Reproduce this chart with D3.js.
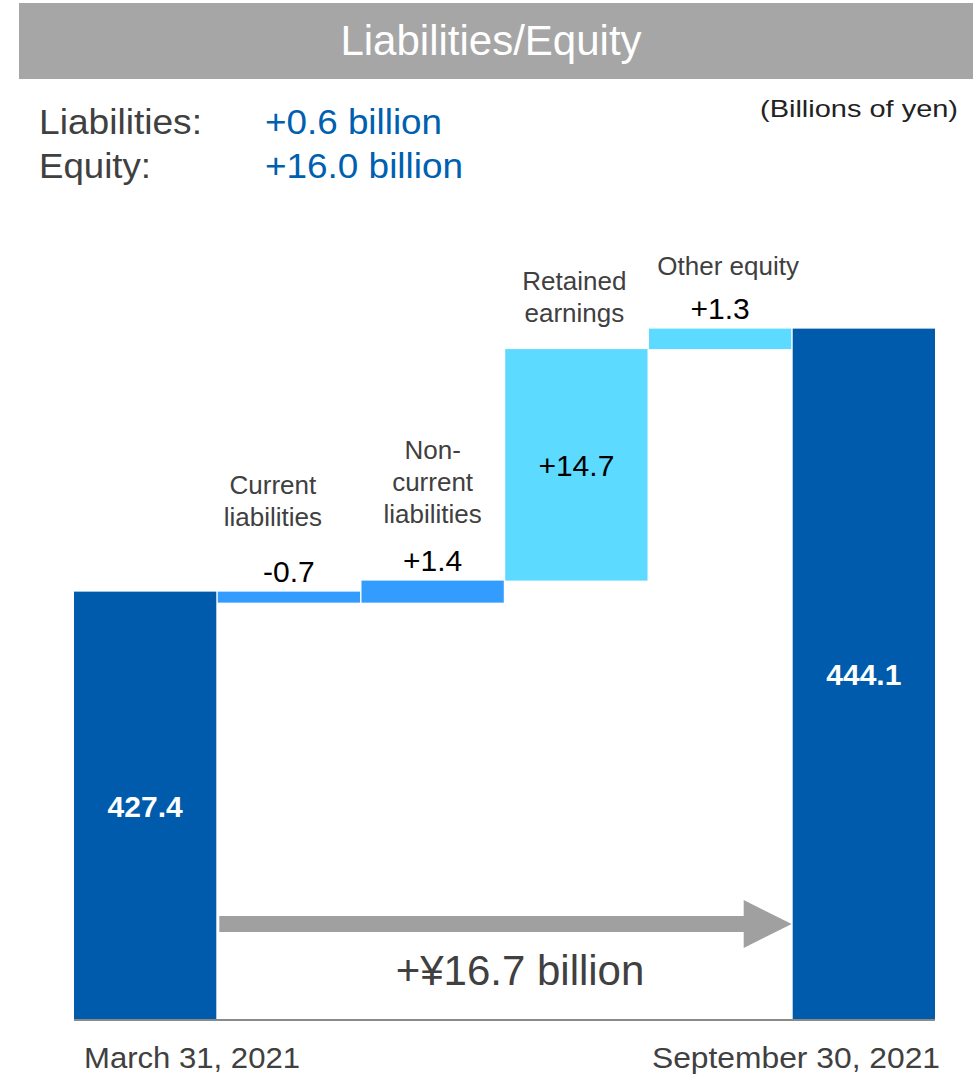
<!DOCTYPE html>
<html>
<head>
<meta charset="utf-8">
<script src="https://cdn.jsdelivr.net/npm/d3@7"></script>
<style>
  html, body { margin: 0; padding: 0; background: #fff; }
  svg { display: block; font-family: "Liberation Sans", Arial, sans-serif; }
</style>
</head>
<body>
<svg id="chart" width="973" height="1077"></svg>
<script>
// Waterfall steps, billions of yen
const categories = ["March 31, 2021", "Current liabilities", "Non-current liabilities",
                    "Retained earnings", "Other equity", "September 30, 2021"];
const labelLines = [[], ["Current", "liabilities"], ["Non-", "current", "liabilities"],
                    ["Retained", "earnings"], ["Other equity"], []];
const stepKinds = ["total", "liability", "liability", "equity", "equity", "total"];
const values = [427.4, -0.7, 1.4, 14.7, 1.3, 444.1];
const summaryNames = ["Liabilities:", "Equity:"];
const summaryValues = ["+0.6 billion", "+16.0 billion"];
const titleText = "Liabilities/Equity";
const unitText = "(Billions of yen)";

const fill = { total: "#005BAC", liability: "#339CFF", equity: "#5CDAFF" };
const svg = d3.select("#chart");
const W = 973;

// Header band
svg.append("rect").attr("x", 19).attr("y", 3).attr("width", W - 19).attr("height", 76)
  .attr("fill", "#A6A6A6");
svg.append("text").attr("x", 491).attr("y", 55).attr("text-anchor", "middle")
  .attr("font-size", 42).attr("fill", "#fff").text(titleText);

// Summary lines
const sumWidths = [[163, 177], [112, 198]];
summaryNames.forEach((n, i) => {
  const by = 134 + i * 44;
  svg.append("text").attr("x", 39).attr("y", by).attr("font-size", 35).attr("fill", "#404040")
    .attr("textLength", sumWidths[i][0]).attr("lengthAdjust", "spacingAndGlyphs").text(n);
  svg.append("text").attr("x", 265).attr("y", by).attr("font-size", 35).attr("fill", "#0060B0")
    .attr("textLength", sumWidths[i][1]).attr("lengthAdjust", "spacingAndGlyphs").text(summaryValues[i]);
});
svg.append("text").attr("x", 958).attr("y", 117).attr("text-anchor", "end").attr("font-size", 24)
  .attr("fill", "#222").attr("textLength", 198).attr("lengthAdjust", "spacingAndGlyphs").text(unitText);

// Build waterfall spans
let running = 0;
const steps = values.map((v, i) => {
  const kind = stepKinds[i];
  let lo, hi;
  if (kind === "total") { running = v; lo = null; hi = v; }
  else { const s = running; running = s + v; lo = Math.min(s, running); hi = Math.max(s, running); }
  return { cat: categories[i], kind, value: v, lo, hi, lines: labelLines[i], i };
});

const x = d3.scaleBand().domain(categories).range([74, 935]).paddingInner(0.01).paddingOuter(0);
const y = d3.scaleLinear().domain([400.2, 450]).range([1020, 235.7]);
const baseY = y.range()[0];

svg.append("g").selectAll("rect").data(steps).join("rect")
  .attr("x", d => x(d.cat))
  .attr("width", x.bandwidth())
  .attr("y", d => y(d.hi))
  .attr("height", d => (d.lo === null ? baseY : y(d.lo)) - y(d.hi))
  .attr("fill", d => fill[d.kind]);

// Baseline
svg.append("line").attr("x1", 74).attr("x2", 935).attr("y1", baseY).attr("y2", baseY)
  .attr("stroke", "#8A8A8A").attr("stroke-width", 2);

const fmt = v => (v > 0 ? "+" : "") + v.toFixed(1);
const cx = d => x(d.cat) + x.bandwidth() / 2;

// Value labels: inside tall bars, above thin bars
steps.forEach(d => {
  const top = y(d.hi);
  const bottom = d.lo === null ? baseY : y(d.lo);
  const tall = bottom - top > 60;
  const t = svg.append("text").attr("x", cx(d)).attr("text-anchor", "middle").attr("font-size", 30);
  if (d.kind === "total") {
    t.attr("y", (top + bottom) / 2 + 11).attr("fill", "#fff").attr("font-weight", "bold").text(d.value.toFixed(1));
  } else if (tall) {
    t.attr("y", (top + bottom) / 2 + 11).attr("fill", "#000").text(fmt(d.value));
  } else {
    t.attr("y", top - 10).attr("fill", "#000").text(fmt(d.value));
  }
  d.tall = tall;
});

// Category labels above each step
const labelShift = [0, -16, 0, -2, 8, 0];
const labelLift = [0, -6, 2, 0, 6, 0];
steps.filter(d => d.lines.length).forEach(d => {
  const top = y(d.hi);
  const last = (d.tall ? top - 27 : top - 60) + labelLift[d.i];
  const n = d.lines.length;
  d.lines.forEach((ln, k) => {
    svg.append("text").attr("x", cx(d) + labelShift[d.i]).attr("y", last - (n - 1 - k) * 32)
      .attr("text-anchor", "middle").attr("font-size", 26).attr("fill", "#404040").text(ln);
  });
});

// Date labels under the total bars
const first = steps[0], lastStep = steps[steps.length - 1];
svg.append("text").attr("x", x(first.cat) + 10).attr("y", 1068).attr("font-size", 30).attr("fill", "#404040")
  .attr("textLength", 216).attr("lengthAdjust", "spacingAndGlyphs").text(first.cat);
svg.append("text").attr("x", x(lastStep.cat) + x.bandwidth() + 5).attr("y", 1068).attr("text-anchor", "end")
  .attr("font-size", 30).attr("fill", "#404040")
  .attr("textLength", 288).attr("lengthAdjust", "spacingAndGlyphs").text(lastStep.cat);

// Overall change arrow
const ax0 = x(first.cat) + x.bandwidth() + 3;
const ax1 = x(lastStep.cat) - 1;
const ay = 924, shaftH = 8, headH = 24, headL = 48;
svg.append("path").attr("fill", "#A0A0A0").attr("d",
  `M${ax0},${ay - shaftH}L${ax1 - headL},${ay - shaftH}L${ax1 - headL},${ay - headH}L${ax1},${ay}` +
  `L${ax1 - headL},${ay + headH}L${ax1 - headL},${ay + shaftH}L${ax0},${ay + shaftH}Z`);
const change = lastStep.value - first.value;
svg.append("text").attr("x", 520).attr("y", 985).attr("text-anchor", "middle").attr("font-size", 42)
  .attr("fill", "#404040").text("+¥" + change.toFixed(1) + " billion");
</script>
</body>
</html>
